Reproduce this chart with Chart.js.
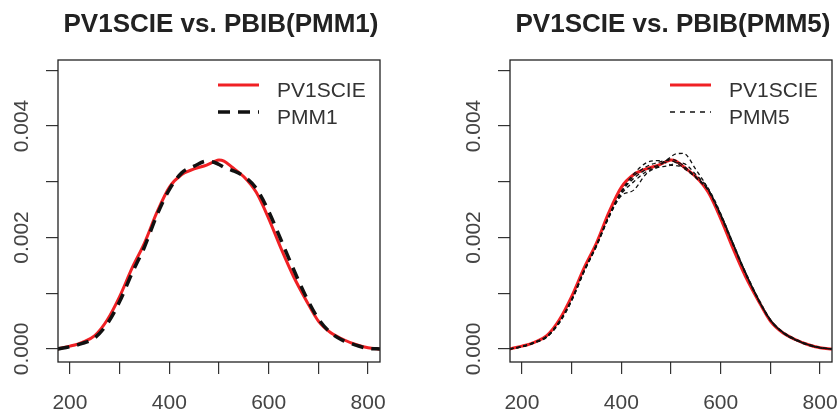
<!DOCTYPE html>
<html>
<head>
<meta charset="utf-8">
<script src="https://cdn.jsdelivr.net/npm/chart.js@4"></script>
<style>
  body { margin: 0; background: #fff; }
  #wrap { position: relative; width: 840px; height: 411px; }
  canvas { position: absolute; top: 0; }
</style>
</head>
<body>
<div id="wrap">
  <canvas id="left" width="420" height="411" style="left:0"></canvas>
  <canvas id="right" width="420" height="411" style="left:420px"></canvas>
</div>
<script>
// density curves
const xGrid = [175, 200, 225, 250, 275, 300, 325, 350, 375, 400, 425, 450, 475, 490, 500, 510, 525, 550, 575, 600, 625, 650, 675, 700, 725, 750, 775, 800, 825];
const pv1scie = [0, 0.00005, 0.00012, 0.00024, 0.00052, 0.00094, 0.00145, 0.0019, 0.00245, 0.0029, 0.00313, 0.00323, 0.0033, 0.00336, 0.00339, 0.00337, 0.00327, 0.00309, 0.00281, 0.00234, 0.0018, 0.0013, 0.00088, 0.0005, 0.00029, 0.00017, 0.00008, 0.00002, 0];
const pmm1 = [0, 0.00004, 0.0001, 0.0002, 0.00045, 0.00085, 0.00136, 0.00183, 0.0024, 0.00286, 0.00316, 0.00328, 0.00337, 0.00335, 0.00331, 0.00326, 0.00321, 0.0031, 0.00288, 0.00247, 0.00195, 0.00143, 0.00094, 0.00054, 0.00029, 0.00015, 0.00007, 0.00001, 0];
const pmm5a = [0, 0.00004, 0.00012, 0.00022, 0.00047, 0.00087, 0.00139, 0.00186, 0.00237, 0.00275, 0.00285, 0.00314, 0.00328, 0.00338, 0.00345, 0.0035, 0.00351, 0.00322, 0.00287, 0.00241, 0.00189, 0.00137, 0.00091, 0.00053, 0.0003, 0.00017, 0.00008, 0.00002, 0];
const pmm5b = [0, 0.00004, 0.00011, 0.00021, 0.00048, 0.00089, 0.00141, 0.00187, 0.00239, 0.00283, 0.00314, 0.00334, 0.00338, 0.00334, 0.0033, 0.00329, 0.00326, 0.00309, 0.00285, 0.00239, 0.00187, 0.00135, 0.00089, 0.00051, 0.00029, 0.00016, 0.00008, 0.00002, 0];
const pmm5c = [0, 0.00005, 0.00012, 0.00023, 0.00049, 0.00088, 0.0014, 0.00185, 0.00238, 0.00282, 0.00306, 0.00322, 0.0033, 0.00338, 0.00341, 0.00338, 0.00329, 0.00308, 0.00286, 0.00242, 0.0019, 0.00138, 0.00092, 0.00053, 0.00031, 0.00018, 0.00009, 0.00003, 0];
const pmm5d = [0, 0.00004, 0.00011, 0.00022, 0.00046, 0.00086, 0.00138, 0.00184, 0.00236, 0.00278, 0.003, 0.00318, 0.00326, 0.00328, 0.0033, 0.00334, 0.00333, 0.00313, 0.00288, 0.00243, 0.00189, 0.00137, 0.0009, 0.00052, 0.0003, 0.00017, 0.00008, 0.00002, 0];
const pmm5e = [0, 0.00004, 0.00012, 0.00022, 0.00048, 0.00088, 0.0014, 0.00186, 0.00238, 0.0028, 0.0031, 0.00327, 0.00335, 0.00338, 0.00338, 0.00334, 0.00325, 0.00307, 0.00284, 0.00238, 0.00186, 0.00134, 0.00089, 0.00051, 0.00029, 0.00016, 0.00007, 0.00002, 0];

const xTicks = [200, 300, 400, 500, 600, 700, 800];
const xLabels = [200, 400, 600, 800];
const yTicks = [0, 0.001, 0.002, 0.003, 0.004, 0.005];
const yLabels = [0, 0.002, 0.004];

const RED = 'rgb(240, 32, 36)';
const FONT = '"Liberation Sans", Arial, sans-serif';

function pts(ys) {
  return ys.map((y, i) => ({ x: xGrid[i], y: y }));
}

// R-style box, title, tick labels and legend
const rDecor = {
  id: 'rDecor',
  afterDraw(chart, args, opts) {
    const ctx = chart.ctx;
    const a = chart.chartArea;
    const xs = chart.scales.x, ys = chart.scales.y;
    ctx.save();
    ctx.strokeStyle = '#222';
    ctx.lineWidth = 1.3;
    ctx.strokeRect(a.left, a.top, a.right - a.left, a.bottom - a.top);

    ctx.fillStyle = '#222';
    ctx.font = 'bold 26px ' + FONT;
    ctx.textAlign = 'center';
    ctx.textBaseline = 'alphabetic';
    ctx.fillText(opts.title, (a.left + a.right) / 2 + 2, 32);

    ctx.fillStyle = '#444';
    ctx.font = '21px ' + FONT;
    xLabels.forEach(v => ctx.fillText(String(v), xs.getPixelForValue(v), 409));
    yLabels.forEach(v => {
      ctx.save();
      ctx.translate(a.left - 30, ys.getPixelForValue(v));
      ctx.rotate(-Math.PI / 2);
      ctx.fillText(v.toFixed(3), 0, 0);
      ctx.restore();
    });

    ctx.textAlign = 'left';
    opts.legend.forEach((it, i) => {
      const y = 85 + i * 27;
      ctx.strokeStyle = it.color;
      ctx.lineWidth = it.width;
      ctx.setLineDash(it.dash);
      ctx.beginPath();
      ctx.moveTo(opts.legendX, y);
      ctx.lineTo(opts.legendX + 41, y);
      ctx.stroke();
      ctx.setLineDash([]);
      ctx.fillStyle = '#333';
      ctx.fillText(it.text, opts.legendX + 59, y + 12);
    });
    ctx.restore();
  }
};

function makeChart(id, title, datasets, legend, yWidth, padRight, legendX) {
  return new Chart(document.getElementById(id).getContext('2d'), {
    type: 'line',
    data: { datasets: datasets },
    plugins: [rDecor],
    options: {
      responsive: false,
      animation: false,
      devicePixelRatio: 1,
      layout: { padding: { top: 60, right: padRight, left: 0, bottom: 0 } },
      elements: { point: { radius: 0 } },
      plugins: {
        legend: { display: false },
        tooltip: { enabled: false },
        rDecor: { title: title, legend: legend, legendX: legendX }
      },
      scales: {
        x: {
          type: 'linear', min: 176, max: 824,
          afterBuildTicks: s => { s.ticks = xTicks.map(v => ({ value: v })); },
          afterFit: s => { s.height = 49; },
          ticks: { display: false },
          border: { display: false },
          grid: { drawOnChartArea: false, drawTicks: true, tickLength: 12, color: '#333', lineWidth: 1.2 }
        },
        y: {
          type: 'linear', min: -0.000234, max: 0.005185,
          afterBuildTicks: s => { s.ticks = yTicks.map(v => ({ value: v })); },
          afterFit: s => { s.width = yWidth; },
          ticks: { display: false },
          border: { display: false },
          grid: { drawOnChartArea: false, drawTicks: true, tickLength: 12, color: '#333', lineWidth: 1.2 }
        }
      }
    }
  });
}

const redLine = { label: 'PV1SCIE', data: pts(pv1scie), borderColor: RED, borderWidth: 3, cubicInterpolationMode: 'monotone', order: 2 };

makeChart('left', 'PV1SCIE vs. PBIB(PMM1)', [
  redLine,
  { label: 'PMM1', data: pts(pmm1), borderColor: '#111', borderWidth: 3.5, borderDash: [12, 8], cubicInterpolationMode: 'monotone', order: 1 }
], [
  { text: 'PV1SCIE', color: RED, width: 3, dash: [] },
  { text: 'PMM1', color: '#111', width: 3.5, dash: [12, 8] }
], 58, 40, 218);

const pmm5 = [pmm5a, pmm5b, pmm5c, pmm5d, pmm5e];
makeChart('right', 'PV1SCIE vs. PBIB(PMM5)', [
  Object.assign({}, redLine, { data: pts(pv1scie) })
].concat(pmm5.map((s, i) => ({
  label: 'PMM5', data: pts(s), borderColor: '#111', borderWidth: 1.3, borderDash: [4, 3], cubicInterpolationMode: 'monotone', order: 1
}))), [
  { text: 'PV1SCIE', color: RED, width: 3, dash: [] },
  { text: 'PMM5', color: '#111', width: 1.3, dash: [5, 5] }
], 90, 8, 250);
</script>
</body>
</html>
